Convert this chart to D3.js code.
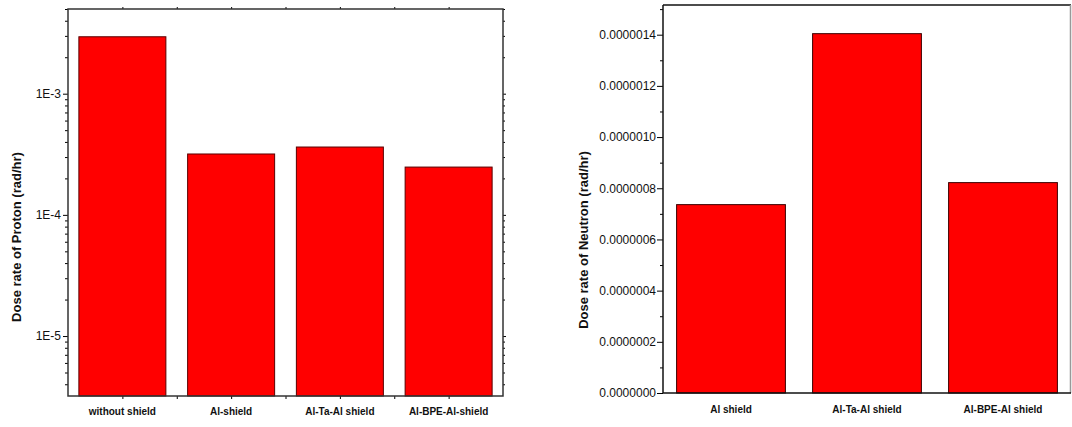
<!DOCTYPE html>
<html><head><meta charset="utf-8">
<script src="https://cdn.jsdelivr.net/npm/d3@7"></script>
<style>body{margin:0;background:#fff}svg{display:block}text{font-family:"Liberation Sans",Arial,sans-serif}</style>
</head><body>
<svg id="c" width="1072" height="427"></svg>
<script>
const protonCategories = ["without shield", "Al-shield", "Al-Ta-Al shield", "Al-BPE-Al-shield"];
const protonValues = [2.95e-3, 3.18e-4, 3.63e-4, 2.48e-4];
const protonTicks = [1e-5, 1e-4, 1e-3];
const protonTickLabels = ["1E-5", "1E-4", "1E-3"];
const protonDomain = [3.2e-6, 5e-3];

const neutronCategories = ["Al shield", "Al-Ta-Al shield", "Al-BPE-Al shield"];
const neutronValues = [7.36e-7, 1.404e-6, 8.22e-7];
const neutronTicks = [0, 2e-7, 4e-7, 6e-7, 8e-7, 1e-6, 1.2e-6, 1.4e-6];
const neutronDomain = [0, 1.516e-6];

const svg = d3.select("#c");

// ---------- Left chart (log) ----------
{
  const L = 68, R = 503, T = 9, B = 396;
  const g = svg.append("g");
  const x = d3.scaleBand().domain(protonCategories).range([L, R]).paddingInner(0.2).paddingOuter(0.1);
  const y = d3.scaleLog().domain(protonDomain).range([B, T]);

  g.selectAll("rect.bar").data(protonCategories).join("rect")
    .attr("x", d => x(d)).attr("width", x.bandwidth())
    .attr("y", (d, i) => y(protonValues[i])).attr("height", (d, i) => B - y(protonValues[i]))
    .attr("fill", "#ff0000").attr("stroke", "#5a0000").attr("stroke-width", 1);

  const minor = [];
  for (let e = -6; e <= -3; e++) for (let m = 2; m <= 9; m++) {
    const v = m * Math.pow(10, e);
    if (v >= protonDomain[0] && v <= protonDomain[1]) minor.push(v);
  }
  const yAxis = d3.axisLeft(y).tickValues(protonTicks).tickFormat((d, i) => protonTickLabels[i]).tickSize(5).tickPadding(2);
  const ya = g.append("g").attr("transform", `translate(${L},0)`).call(yAxis);
  ya.select(".domain").remove();
  ya.selectAll("text").attr("font-size", 12).attr("fill", "#111");
  g.append("g").attr("transform", `translate(${L},0)`)
    .call(d3.axisLeft(y).tickValues(minor).tickFormat("").tickSize(3))
    .select(".domain").remove();
  g.append("g").attr("transform", `translate(${R},0)`)
    .call(d3.axisRight(y).tickValues(protonTicks).tickFormat("").tickSize(3))
    .select(".domain").remove();
  g.append("g").attr("transform", `translate(${R},0)`)
    .call(d3.axisRight(y).tickValues(minor).tickFormat("").tickSize(2))
    .select(".domain").remove();

  const bPos = [];
  protonCategories.forEach(c => { bPos.push(x(c) + x.bandwidth() / 2); });
  const step = x.step();
  const boundaries = protonCategories.slice(1).map(c => x(c) - step * 0.1);
  const bx = d3.scaleLinear().domain([L, R]).range([L, R]);
  const xb = g.append("g").attr("transform", `translate(0,${B})`)
    .call(d3.axisBottom(bx).tickValues(bPos.concat(boundaries)).tickFormat("").tickSize(3));
  xb.select(".domain").remove();
  g.append("g").attr("transform", `translate(0,${T})`)
    .call(d3.axisTop(bx).tickValues(bPos.concat(boundaries)).tickFormat("").tickSize(2))
    .select(".domain").remove();

  g.selectAll("text.xl").data(protonCategories).join("text")
    .attr("x", d => x(d) + x.bandwidth() / 2).attr("y", 415)
    .attr("text-anchor", "middle").attr("font-size", 10).attr("font-weight", "bold").attr("fill", "#111")
    .text(d => d);

  g.append("rect").attr("x", L).attr("y", T).attr("width", R - L).attr("height", B - T)
    .attr("fill", "none").attr("stroke", "#333").attr("stroke-width", 1.5);

  g.append("text").attr("transform", `translate(21,237) rotate(-90)`)
    .attr("text-anchor", "middle").attr("font-size", 13).attr("font-weight", "bold").attr("fill", "#111")
    .text("Dose rate of Proton (rad/hr)");
}

// ---------- Right chart (linear) ----------
{
  const L = 663, R = 1071, T = 5, B = 393;
  const g = svg.append("g");
  const x = d3.scaleBand().domain(neutronCategories).range([L, R]).paddingInner(0.2).paddingOuter(0.1);
  const y = d3.scaleLinear().domain(neutronDomain).range([B, T]);

  g.selectAll("rect.bar").data(neutronCategories).join("rect")
    .attr("x", d => x(d)).attr("width", x.bandwidth())
    .attr("y", (d, i) => y(neutronValues[i])).attr("height", (d, i) => B - y(neutronValues[i]))
    .attr("fill", "#ff0000").attr("stroke", "#3a0000").attr("stroke-width", 1);

  const ya = g.append("g").attr("transform", `translate(${L},0)`)
    .call(d3.axisLeft(y).tickValues(neutronTicks).tickFormat(d3.format(".7f")).tickSize(6).tickPadding(1));
  ya.select(".domain").remove();
  ya.selectAll("text").attr("font-size", 12).attr("fill", "#111");
  const minorN = neutronTicks.map(t => t + 1e-7).filter(v => v <= neutronDomain[1]);
  g.append("g").attr("transform", `translate(${L},0)`)
    .call(d3.axisLeft(y).tickValues(minorN).tickFormat("").tickSize(3))
    .select(".domain").remove();

  g.selectAll("text.xl").data(neutronCategories).join("text")
    .attr("x", d => x(d) + x.bandwidth() / 2).attr("y", 413)
    .attr("text-anchor", "middle").attr("font-size", 10).attr("font-weight", "bold").attr("fill", "#111")
    .text(d => d);

  g.append("line").attr("x1", L).attr("x2", R).attr("y1", T).attr("y2", T).attr("stroke", "#111").attr("stroke-width", 1.5);
  g.append("line").attr("x1", R - 0.5).attr("x2", R - 0.5).attr("y1", T).attr("y2", B).attr("stroke", "#999").attr("stroke-width", 1.5);
  g.append("line").attr("x1", L).attr("x2", R).attr("y1", B).attr("y2", B).attr("stroke", "#111").attr("stroke-width", 1.5);
  g.append("line").attr("x1", L).attr("x2", L).attr("y1", T).attr("y2", B).attr("stroke", "#111").attr("stroke-width", 1.5);

  g.append("text").attr("transform", `translate(588,240) rotate(-90)`)
    .attr("text-anchor", "middle").attr("font-size", 13).attr("font-weight", "bold").attr("fill", "#111")
    .text("Dose rate of Neutron (rad/hr)");
}
</script>
</body></html>
